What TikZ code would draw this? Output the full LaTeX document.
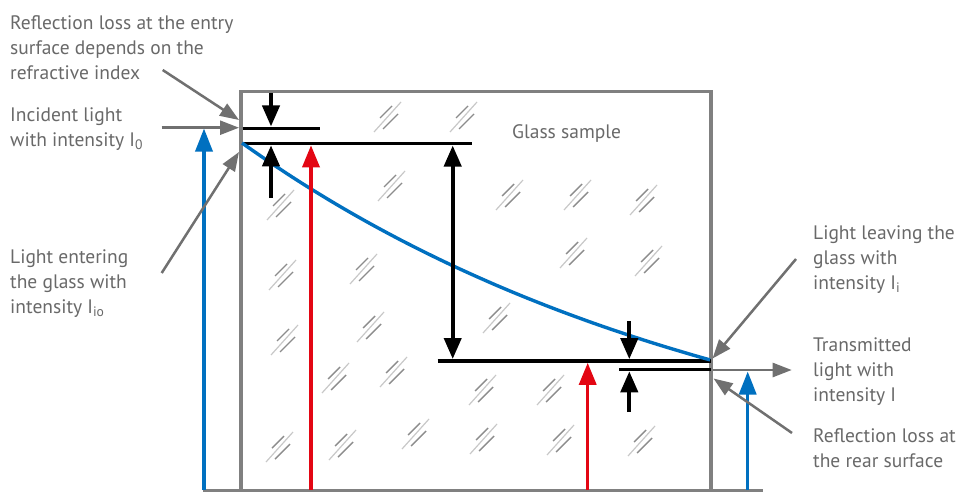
\documentclass[tikz,border=0pt]{standalone}
\usepackage{fontspec}
\setmainfont{PT Sans}
\usetikzlibrary{arrows.meta}
\definecolor{txtgray}{RGB}{105,105,105}
\definecolor{boxgray}{RGB}{128,128,128}
\definecolor{ptrgray}{RGB}{112,112,112}
\definecolor{lblue}{RGB}{0,112,192}
\definecolor{lred}{RGB}{227,6,19}
\definecolor{hdark}{RGB}{140,140,140}
\definecolor{hlight}{RGB}{200,200,200}
\begin{document}
\begin{tikzpicture}[x=1pt,y=-1pt,
  lbl/.style={font=\fontsize{19.5}{25}\selectfont, text=txtgray, align=left, inner sep=0pt, anchor=north west},
  ptr/.style={draw=ptrgray, line width=2.5pt, -{Triangle[length=19pt,width=14pt]}},
  blkarrow/.style={draw=black, line width=4pt, -{Triangle[length=21pt,width=17pt]}},
  blkdbl/.style={draw=black, line width=4pt, {Triangle[length=21pt,width=17pt]}-{Triangle[length=21pt,width=17pt]}},
  redarrow/.style={draw=lred, line width=3.5pt, -{Triangle[length=22pt,width=17pt]}},
  bluearrow/.style={draw=lblue, line width=3.5pt, -{Triangle[length=23pt,width=17pt]}},
  level/.style={draw=black, line width=3.5pt},
  glassmark/.pic={
    \draw[hlight, line width=1.2pt] (-13,15) -- (14,-15);
    \draw[hdark, line width=1.4pt] (-7,1) -- (5,-11);
    \draw[hdark, line width=1.4pt] (-4,12) -- (11,-3);
  }
]
\useasboundingbox (0,0) rectangle (957,492);
\fill[white] (0,0) rectangle (957,492);

% glass texture marks
\foreach \mx/\my in {387/117,463/117,280/205,391/186,282/275,363/269,509/195,577/195,643/200,573/253,648/261,284/340,370/327,335/378,393/372,496/318,482/390,550/390,483/439,560/440,641/441,279/447,342/445,415/434}
  \pic at (\mx,\my) {glassmark};

% glass sample box and base line
\coordinate (boxBL) at (241,490.7);
\coordinate (boxTL) at (241,91.5);
\coordinate (boxTR) at (711,91.5);
\coordinate (boxBR) at (711,490.7);
\draw[boxgray, line width=3.2pt] (boxBL) -- (boxTL) -- (boxTR) -- (boxBR);
\coordinate (baseL) at (203,490.7);
\coordinate (baseR) at (763,490.7);
\draw[boxgray, line width=3.2pt] (baseL) -- (baseR);

\node[lbl] (glass) at (512,124.5) {Glass sample};

% intensity levels
\coordinate (l0a) at (242.5,128.3); \coordinate (l0b) at (320,128.3);
\coordinate (l1a) at (242.5,143.3); \coordinate (l1b) at (471.7,143.3);
\coordinate (l2a) at (437.7,361);   \coordinate (l2b) at (711,361);
\coordinate (l3a) at (619,369.5);   \coordinate (l3b) at (711,369.5);
\draw[level] (l0a) -- (l0b);
\draw[level] (l1a) -- (l1b);
\draw[level] (l2a) -- (l2b);
\draw[level] (l3a) -- (l3b);

% attenuation curve
\draw[lblue, line width=3.4pt] plot[domain=242:710, samples=60, smooth] (\x, {143+357*(1-exp(-0.002*(\x-242)))});

% black dimension arrows
\coordinate (a1s) at (271,93);    \coordinate (a1e) at (271,126.5);
\coordinate (a2s) at (271,198);   \coordinate (a2e) at (271,145.3);
\coordinate (dTop) at (452.7,145.5); \coordinate (dBot) at (452.7,359);
\coordinate (a3s) at (629.3,321); \coordinate (a3e) at (629.3,359.2);
\coordinate (a4s) at (629.3,412); \coordinate (a4e) at (629.3,371.3);
\draw[blkarrow] (a1s) -- (a1e);
\draw[blkarrow] (a2s) -- (a2e);
\draw[blkdbl] (dTop) -- (dBot);
\draw[blkarrow] (a3s) -- (a3e);
\draw[blkarrow] (a4s) -- (a4e);

% red and blue arrows
\coordinate (r1s) at (311,490); \coordinate (r1e) at (311,145.3);
\coordinate (r2s) at (587.7,490); \coordinate (r2e) at (587.7,362.8);
\coordinate (b1s) at (204,490); \coordinate (b1e) at (204,128.5);
\coordinate (b2s) at (747.7,490); \coordinate (b2e) at (747.7,371.5);
\draw[redarrow] (r1s) -- (r1e);
\draw[redarrow] (r2s) -- (r2e);
\draw[bluearrow] (b1s) -- (b1e);
\draw[bluearrow] (b2s) -- (b2e);

% labels
\node[lbl] (refl) at (10,15) {Reflection loss at the entry\\surface depends on the\\refractive index};
\node[lbl] (incid) at (10,107) {Incident light\\with intensity I\textsubscript{0}};
\node[lbl] (enter) at (10,249) {Light entering\\the glass with\\intensity I\textsubscript{io}};
\node[lbl] (leave) at (813,225) {Light leaving the\\glass with\\intensity I\textsubscript{i}};
\node[lbl] (trans) at (813,337) {Transmitted\\light with\\intensity I};
\node[lbl] (rear) at (813,428) {Reflection loss at\\the rear surface};

% pointers
\coordinate (p1s) at (162.7,70);    \coordinate (p1e) at (239,120);
\coordinate (p2s) at (161.7,127.7); \coordinate (p2e) at (239,127.7);
\coordinate (p3s) at (161.7,273);   \coordinate (p3e) at (239,152);
\coordinate (p4s) at (796,259);     \coordinate (p4e) at (712.5,358.5);
\coordinate (p5s) at (712.5,370);   \coordinate (p5e) at (791.7,370);
\coordinate (p6s) at (792,433);     \coordinate (p6e) at (713.5,378.5);
\draw[ptr] (p1s) -- (p1e);
\draw[ptr] (p2s) -- (p2e);
\draw[ptr] (p3s) -- (p3e);
\draw[ptr] (p4s) -- (p4e);
\draw[ptr] (p5s) -- (p5e);
\draw[ptr] (p6s) -- (p6e);
\end{tikzpicture}
\end{document}
